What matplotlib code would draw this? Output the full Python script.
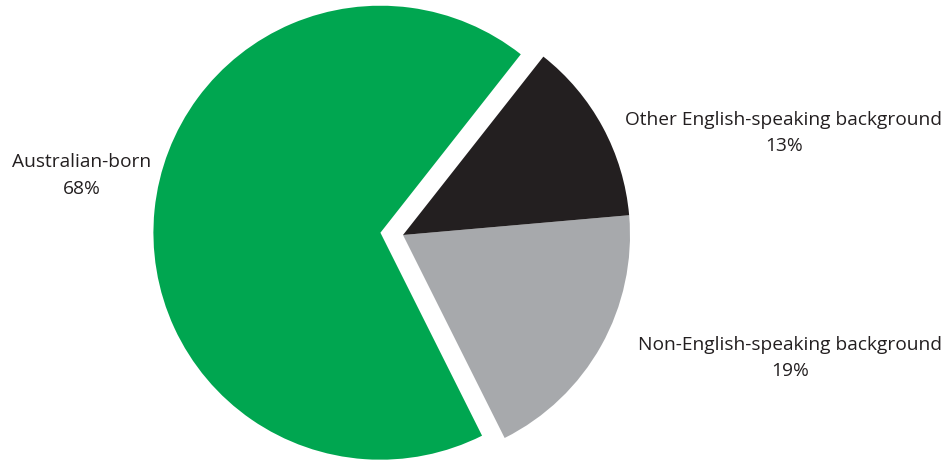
import matplotlib
matplotlib.use("Agg")
import matplotlib.pyplot as plt

categories = ["Australian-born", "Non-English-speaking background", "Other English-speaking background"]
values = [68, 19, 13]
colors = ["#00a650", "#a7a9ac", "#231f20"]
explode = [0.1, 0, 0]

fig = plt.figure(figsize=(9.49, 4.63), dpi=100)
ax = fig.add_axes([0, 0, 1, 1])
ax.pie(values, colors=colors, explode=explode, startangle=51.8, counterclock=True,
       radius=1.0, center=(0, 0), wedgeprops=dict(linewidth=0))
ax.set_xlim(-403/227, (949-403)/227)
ax.set_ylim(-(463-235)/227, 235/227)
ax.set_aspect("equal")
ax.axis("off")

txt = dict(ha="center", va="center", fontsize=13.8, color="#231f20", family="Open Sans", linespacing=1.62)
ax.text(-1.414, 0.262, f"{categories[0]}\n{values[0]}%", **txt)
ax.text(1.678, 0.45, f"{categories[2]}\n{values[2]}%", **txt)
ax.text(1.705, -0.542, f"{categories[1]}\n{values[1]}%", **txt)

fig.savefig("out.png", dpi=100)
